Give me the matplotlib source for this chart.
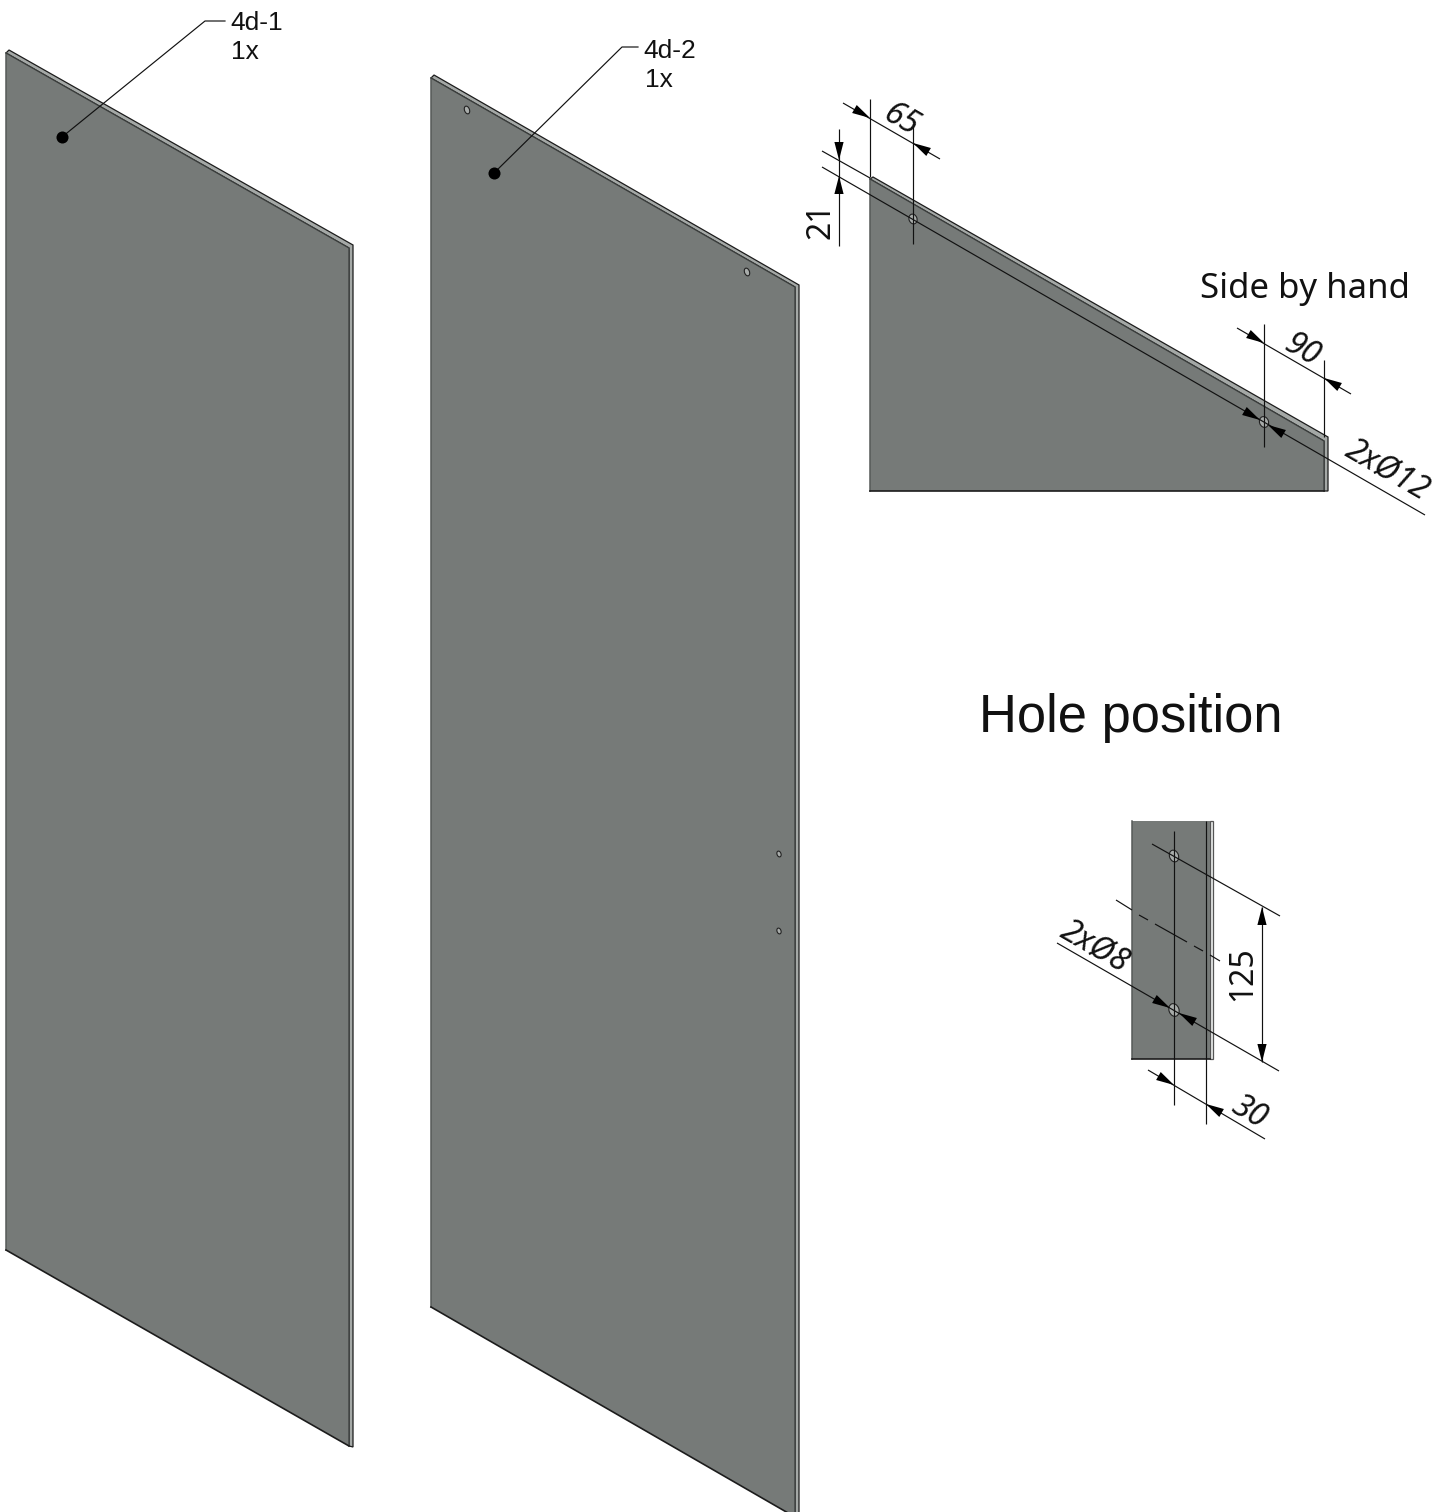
import numpy as np
import matplotlib
matplotlib.use("Agg")
import matplotlib.pyplot as plt
from matplotlib.patches import Polygon, Ellipse

W, H = 1439, 1512
FACE = "#767a78"; STRIP = "#a4a8a6"; EDGE = "#1c1c1c"; LEFT = "#565a58"

# panels: face polygon and strip polygon
panel1_face = [(6,53),(349,248),(349,1446),(6,1250)]
panel1_strip = [(6,53),(9,50),(353,245),(353,1447),(349,1446),(349,248)]
panel2_face = [(431,78),(795,287),(795,1517),(431,1307)]
panel2_strip = [(431,78),(434,75),(799,285),(799,1520),(795,1517),(795,287)]
panel3_face = [(870,179),(1324,441),(1324,491),(870,491)]
panel3_strip = [(870,179),(873,177),(1328,437),(1328,491),(1324,491),(1324,441)]
panel4_face = [(1132,821),(1210,821),(1210,1059),(1132,1059)]
panel4_strip = [(1210,821),(1213,821),(1213,1059),(1210,1059)]
strip_colors = [STRIP, STRIP, STRIP, "#e8eaE9"]

holes = [(467,110,5,8),(747,272,5,8),(779,854,4,6),(779,931,4,6),
         (913,219,8,10),(1264,422,9,11),(1174,856,9,12),(1174,1010,10,13)]

thin_lines = [
    [(870,99),(870,177)], [(913,124),(913,244)], [(843,103),(940,159)],
    [(839,129),(839,246)], [(822,151),(870,178)], [(822,167),(1425,515)],
    [(1264,324),(1264,447)], [(1324,360),(1324,437)], [(1237,328),(1351,394)],
    [(1174,831),(1174,1105)], [(1206,821),(1206,1124)], [(1152,844),(1280,916)],
    [(1057,943),(1279,1071)], [(1262,907),(1262,1062)], [(1148,1070),(1265,1139)],
]
dashes = [[(1116,900),(1132,910)],[(1139,915),(1148,920)],[(1155,924),(1187,942)],
          [(1194,946),(1203,951)],[(1210,955),(1220,961)]]
leaders = [[(62,137),(205,21),(225,21)], [(494,173),(622,47),(638,47)]]
dots = [(62,137),(494,173)]
# tip position, then direction of travel
arrows = [((870,118),(1,.577)), ((913,143),(-1,-.577)), ((839,160),(0,1)), ((839,176),(0,-1)),
          ((1264,343),(1,.577)), ((1324,378),(-1,-.577)), ((1260,420),(1,.577)), ((1268,425),(-1,-.577)),
          ((1262,907),(0,-1)), ((1262,1062),(0,1)), ((1174,1085),(1,.577)), ((1206,1104),(-1,-.577)),
          ((1170,1008),(1,.577)), ((1179,1013),(-1,-.577))]

labels = [("4d-1",230,23,19,"Liberation Sans"),("1x",231,52,19,"Liberation Sans"),
          ("4d-2",643,51,19,"Liberation Sans"),("1x",645,80,19,"Liberation Sans")]
big = ("Hole position",1131,718,37.8)
side = ("Side by hand",1305,289,25)
dims = [("65",901,120,-30,"italic"),("21",821,221,90,"normal"),("90",1302,350,-30,"italic"),
        ("2xØ12",1387,471,-30,"italic"),("2xØ8",1095,947,-30,"italic"),("125",1243,974,90,"normal"),
        ("30",1249,1112,-30,"italic")]

fig = plt.figure(figsize=(W/100, H/100), dpi=100)
ax = fig.add_axes([0,0,1,1]); ax.set_xlim(0,W); ax.set_ylim(H,0); ax.axis("off")

panels = [(panel1_face,panel1_strip),(panel2_face,panel2_strip),(panel3_face,panel3_strip),(panel4_face,panel4_strip)]
for (face, strip), sc in zip(panels, strip_colors):
    ax.add_patch(Polygon(strip, closed=True, fc=sc, ec="#555555" if sc != STRIP else EDGE, lw=0.9, joinstyle="miter"))
    ax.add_patch(Polygon(face, closed=True, fc=FACE, ec="none"))
    xs, ys = zip(*face)
    ax.plot([xs[3],xs[0]], [ys[3],ys[0]], color=LEFT, lw=1.1, zorder=2)
    if sc == STRIP:
        ax.plot(xs[:3], ys[:3], color="#3a3d3c", lw=0.9, zorder=2)
    ax.plot(xs[2:4], ys[2:4], color=EDGE, lw=1.2, zorder=2)
for x,y,w,h in holes:
    ax.add_patch(Ellipse((x,y), w, h, angle=-20, fc="#a8acaa", ec="#222222", lw=0.8, zorder=3))
for seg in thin_lines + dashes:
    xs, ys = zip(*seg); ax.plot(xs, ys, color="#111111", lw=0.85, zorder=4, solid_capstyle="butt")
for seg in leaders:
    xs, ys = zip(*seg); ax.plot(xs, ys, color="#111111", lw=0.85, zorder=4)
ax.scatter(*zip(*dots), s=75, color="black", zorder=5, linewidths=0)
for (tx,ty),(dx,dy) in arrows:
    n = np.hypot(dx,dy); dx,dy = dx/n,dy/n; L,Wd = 18,4.6
    bx,by = tx-dx*L, ty-dy*L
    ax.add_patch(Polygon([(tx,ty),(bx-dy*Wd,by+dx*Wd),(bx+dy*Wd,by-dx*Wd)], closed=True, fc="black", ec="none", zorder=5))
for t,x,y,s,f in labels:
    ax.text(x,y,t,fontsize=s,family=f,va="center",ha="left",color="#111111")
ax.text(big[1],big[2],big[0],fontsize=big[3],family="Liberation Sans",ha="center",va="center",color="#111111")
ax.text(side[1],side[2],side[0],fontsize=side[3],family="Noto Sans",ha="center",va="center",color="#111111")
for t,x,y,r,st in dims:
    ax.text(x,y,t,fontsize=23,family="Noto Sans",style=st,rotation=r,rotation_mode="anchor",ha="center",va="center",color="#111111",zorder=6)
fig.savefig("out.png", dpi=100, facecolor="white")
